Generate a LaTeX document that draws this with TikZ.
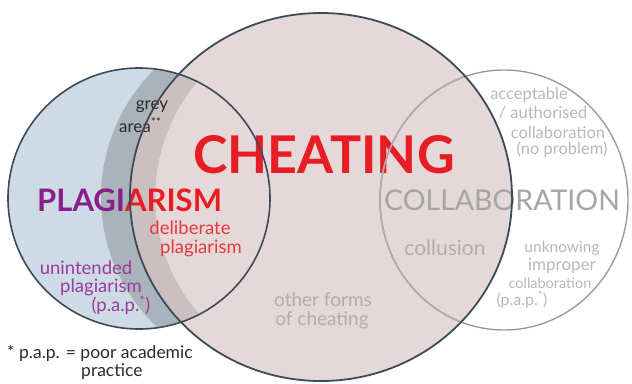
\documentclass[tikz,border=0pt]{standalone}
\usepackage{fontspec}
\setmainfont{Lato}
\definecolor{cheatfill}{HTML}{E4D8D8}
\definecolor{plagfill}{HTML}{CDDBE5}
\definecolor{banddark}{HTML}{AAB3B9}
\definecolor{bandlight}{HTML}{CBC0C0}
\definecolor{edge}{HTML}{3C4A5A}
\definecolor{collabedge}{HTML}{9C9C9C}
\definecolor{collabedgein}{HTML}{B3A9A9}
\definecolor{cheatred}{HTML}{E81C24}
\definecolor{delred}{HTML}{E8393F}
\definecolor{plagpurple}{HTML}{8A1E8C}
\definecolor{unintpurple}{HTML}{9A3A9E}
\definecolor{collabgrey}{HTML}{A5A5A5}
\definecolor{lightgrey}{HTML}{B8B8B8}
\definecolor{othergrey}{HTML}{B5ABAB}
\definecolor{footdark}{HTML}{2A2A2A}
\tikzset{
  lbl/.style={inner sep=0pt, align=center},
  big/.style={lbl, font=\fontsize{52}{52}\selectfont\bfseries},
}
\begin{document}
\begin{tikzpicture}[x=1pt,y=-1pt]
\useasboundingbox (0,0) rectangle (632,383);
\fill[white] (0,0) rectangle (632,383);
% fills
\fill[plagfill] (139,198.5) ellipse [x radius=131pt, y radius=130.5pt];
\fill[cheatfill] (321,197) ellipse [x radius=191pt, y radius=184pt];
% grey band
\begin{scope}
  \clip (139,198.5) ellipse [x radius=131pt, y radius=130.5pt];
  \fill[banddark, even odd rule] (292,197) ellipse [x radius=191pt, y radius=184pt]
                                 (346,197) ellipse [x radius=191pt, y radius=184pt];
  \clip (321,197) ellipse [x radius=191pt, y radius=184pt];
  \fill[bandlight, even odd rule] (292,197) ellipse [x radius=191pt, y radius=184pt]
                                 (346,197) ellipse [x radius=191pt, y radius=184pt];
\end{scope}
% texts
\node[big, text=cheatred] (cheat) at (324,155) {CHEATING};
\node[lbl, anchor=west, font=\fontsize{31}{31}\selectfont\bfseries] (plag) at (37,200)
  {\textcolor{plagpurple}{PLAGI}\textcolor{cheatred}{ARISM}};
\node[lbl, text=collabgrey, font=\fontsize{28.5}{28}\selectfont] (collab) at (502,200) {COLLABORATION};
\node[lbl, text=delred, font=\fontsize{18.5}{20}\selectfont] (delib1) at (190,228) {deliberate};
\node[lbl, text=delred, font=\fontsize{18.5}{20}\selectfont] (delib2) at (201,248) {plagiarism};
\node[lbl, text=unintpurple, font=\fontsize{18.5}{20}\selectfont] (unint1) at (86,268) {unintended};
\node[lbl, text=unintpurple, font=\fontsize{18.5}{20}\selectfont] (unint2) at (101,287) {plagiarism};
\node[lbl, text=unintpurple, font=\fontsize{18.5}{20}\selectfont] (unint3) at (121,305) {(p.a.p.\textsuperscript{*})};
\node[lbl, text=footdark, font=\fontsize{17}{18}\selectfont] (grey1) at (152,107) {grey};
\node[lbl, text=footdark, font=\fontsize{17}{18}\selectfont, anchor=west] (grey2) at (119,125) {area\textsuperscript{**}};
\node[lbl, text=lightgrey, font=\fontsize{16.5}{18}\selectfont] (acc1) at (529,95) {acceptable};
\node[lbl, text=lightgrey, font=\fontsize{16.5}{18}\selectfont] (acc2) at (543,113) {/ authorised};
\node[lbl, text=lightgrey, font=\fontsize{16.5}{18}\selectfont] (acc3) at (558,132) {collaboration};
\node[lbl, text=lightgrey, font=\fontsize{16.5}{18}\selectfont] (acc4) at (562,150) {(no problem)};
\node[lbl, text=othergrey, font=\fontsize{21}{22}\selectfont] (collusion) at (445,248) {collusion};
\node[lbl, text=lightgrey, font=\fontsize{15.5}{18}\selectfont] (unk1) at (562,248) {unknowing};
\node[lbl, text=lightgrey, font=\fontsize{17}{18}\selectfont] (unk2) at (562,266) {improper};
\node[lbl, text=lightgrey, font=\fontsize{14.5}{18}\selectfont] (unk3) at (550,283) {collaboration};
\node[lbl, text=lightgrey, font=\fontsize{16}{18}\selectfont] (unk4) at (522,300) {(p.a.p.\textsuperscript{*})};
\node[lbl, text=othergrey, font=\fontsize{19}{20}\selectfont] (other1) at (323,300) {other forms};
\node[lbl, text=othergrey, font=\fontsize{19}{20}\selectfont] (other2) at (322,320) {of cheating};
\node[lbl, text=footdark, font=\fontsize{17.5}{19}\selectfont, anchor=west] (foot1) at (7,353) {* p.a.p. = poor academic};
\node[lbl, text=footdark, font=\fontsize{17.5}{19}\selectfont, anchor=west] (foot2) at (81,372) {practice};
% strokes
\draw[collabedge, line width=1.4pt] (504,200) ellipse [x radius=124pt, y radius=130pt];
\begin{scope}
  \clip (321,197) ellipse [x radius=191pt, y radius=184pt];
  \draw[collabedgein, line width=1.4pt] (504,200) ellipse [x radius=124pt, y radius=130pt];
\end{scope}
\draw[edge, line width=1.8pt] (321,197) ellipse [x radius=191pt, y radius=184pt];
\draw[edge, line width=1.6pt] (139,198.5) ellipse [x radius=131pt, y radius=130.5pt];
\end{tikzpicture}
\end{document}
